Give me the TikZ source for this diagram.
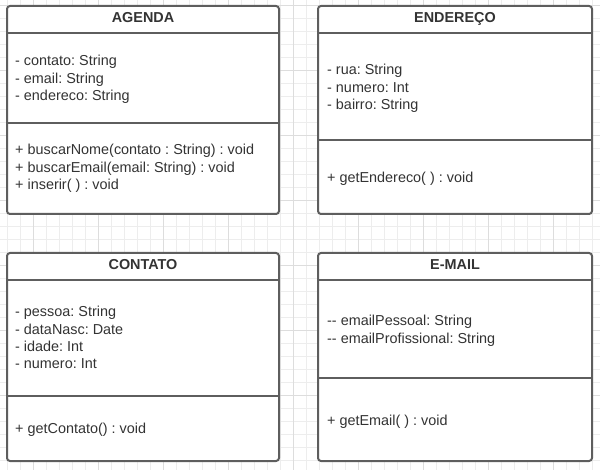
\documentclass[tikz,border=0pt]{standalone}
\usepackage{fontspec}
\setmainfont{Liberation Sans}
\frenchspacing
\definecolor{txt}{HTML}{333333}
\definecolor{boxgray}{HTML}{5E5E5E}
\definecolor{minorgrid}{HTML}{EDEDED}
\definecolor{majorgrid}{HTML}{DDDDDD}
\newcommand{\memberfont}{\fontsize{14.4}{17.28}\selectfont}
\tikzset{
  classbox/.style={draw=boxgray, line width=2pt, rounded corners=3pt, fill=white, inner sep=0pt},
  sepline/.style={draw=boxgray, line width=2pt},
  titletext/.style={anchor=base, inner sep=0pt, yshift=-1pt, font=\memberfont\bfseries, text=txt},
  member/.style={anchor=base west, inner sep=0pt, yshift=-1pt, font=\memberfont, text=txt},
  gridminor/.style={draw=minorgrid, line width=1pt},
  gridmajor/.style={draw=majorgrid, line width=1pt},
}
\begin{document}
\begin{tikzpicture}[x=1pt, y=-1pt]
\useasboundingbox (0,0) rectangle (600,470);
% grid
\foreach \i in {0,...,45} {\draw[gridminor] ({7.3+13*\i},0) -- ({7.3+13*\i},470);}
\foreach \i in {0,...,36} {\draw[gridminor] (0,{5.7+13*\i}) -- (600,{5.7+13*\i});}
\foreach \i in {0,...,8} {\draw[gridmajor] ({33.3+65*\i},0) -- ({33.3+65*\i},470);}
\foreach \i in {0,...,6} {\draw[gridmajor] (0,{5.7+65*\i}) -- (600,{5.7+65*\i});}
% AGENDA
\node[classbox, minimum width=272pt, minimum height=208pt] (agenda) at (143,110) {};
\draw[sepline] ([yshift=-28pt]agenda.north west) -- ([yshift=-28pt]agenda.north east);
\draw[sepline] ([yshift=-118pt]agenda.north west) -- ([yshift=-118pt]agenda.north east);
\node[titletext] (agendaT) at (143,22) {AGENDA};
\node[member] (agendaA1) at (15,65) {- contato: String};
\node[member] (agendaA2) at (15,82.3) {- email: String};
\node[member] (agendaA3) at (15,99.6) {- endereco: String};
\node[member] (agendaM1) at (15,154) {+ buscarNome(contato : String) : void};
\node[member] (agendaM2) at (15,171.3) {+ buscarEmail(email: String) : void};
\node[member] (agendaM3) at (15,188.6) {+ inserir( ) : void};
% ENDERECO
\node[classbox, minimum width=274pt, minimum height=208pt] (endereco) at (455,110) {};
\draw[sepline] ([yshift=-28pt]endereco.north west) -- ([yshift=-28pt]endereco.north east);
\draw[sepline] ([yshift=-135pt]endereco.north west) -- ([yshift=-135pt]endereco.north east);
\node[titletext] (enderecoT) at (455,22) {ENDEREÇO};
\node[member] (enderecoA1) at (327,74) {- rua: String};
\node[member] (enderecoA2) at (327,91.3) {- numero: Int};
\node[member] (enderecoA3) at (327,108.6) {- bairro: String};
\node[member] (enderecoM1) at (327,182) {+ getEndereco( ) : void};
% CONTATO
\node[classbox, minimum width=272pt, minimum height=208pt] (contato) at (143,357) {};
\draw[sepline] ([yshift=-28pt]contato.north west) -- ([yshift=-28pt]contato.north east);
\draw[sepline] ([yshift=-144pt]contato.north west) -- ([yshift=-144pt]contato.north east);
\node[titletext] (contatoT) at (143,269) {CONTATO};
\node[member] (contatoA1) at (15,316) {- pessoa: String};
\node[member] (contatoA2) at (15,333.3) {- dataNasc: Date};
\node[member] (contatoA3) at (15,350.6) {- idade: Int};
\node[member] (contatoA4) at (15,367.9) {- numero: Int};
\node[member] (contatoM1) at (15,432) {+ getContato() : void};
% E-MAIL
\node[classbox, minimum width=274pt, minimum height=208pt] (email) at (455,357) {};
\draw[sepline] ([yshift=-28pt]email.north west) -- ([yshift=-28pt]email.north east);
\draw[sepline] ([yshift=-126pt]email.north west) -- ([yshift=-126pt]email.north east);
\node[titletext] (emailT) at (455,269) {E-MAIL};
\node[member] (emailA1) at (327,325) {-{}- emailPessoal: String};
\node[member] (emailA2) at (327,342.3) {-{}- emailProfissional: String};
\node[member] (emailM1) at (327,424) {+ getEmail( ) : void};
\end{tikzpicture}
\end{document}
